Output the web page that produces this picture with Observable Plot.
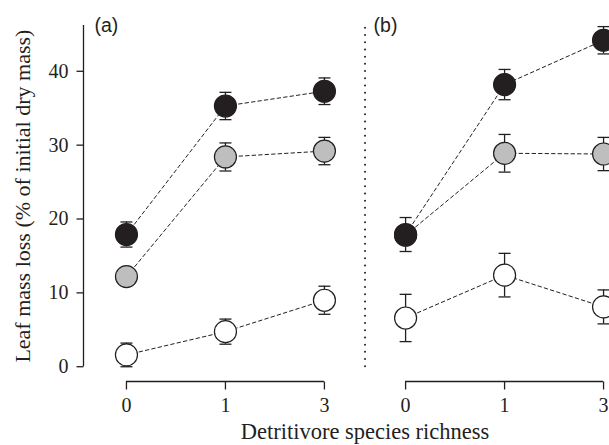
<!DOCTYPE html>
<html>
<head>
<meta charset="utf-8">
<script src="https://cdn.jsdelivr.net/npm/d3@7"></script>
<script src="https://cdn.jsdelivr.net/npm/@observablehq/plot@0.6"></script>
<style>
  html, body { margin: 0; padding: 0; background: #fff; overflow: hidden; }
  #chart svg { overflow: hidden; }
</style>
</head>
<body>
<div id="chart"></div>
<script>
// ---- data ----
const richness = ["0", "1", "3"];
const panelLabels = ["(a)", "(b)"];
const yTicks = [0, 10, 20, 30, 40];
const yLabel = "Leaf mass loss (% of initial dry mass)";
const xLabel = "Detritivore species richness";

const seriesFill = { white: "#ffffff", gray: "#bebebe", black: "#231f20" };

// panel (a)
const aWhiteMean = [1.6, 4.75, 9.0];
const aWhiteSE   = [1.6, 1.7, 1.9];
const aGrayMean  = [12.2, 28.4, 29.2];
const aGraySE    = [0.4, 1.9, 1.85];
const aBlackMean = [17.9, 35.3, 37.3];
const aBlackSE   = [1.7, 1.85, 1.8];
// panel (b)
const bWhiteMean = [6.6, 12.4, 8.1];
const bWhiteSE   = [3.2, 2.95, 2.3];
const bGrayMean  = [17.8, 28.9, 28.8];
const bGraySE    = [0.4, 2.55, 2.25];
const bBlackMean = [17.9, 38.2, 44.2];
const bBlackSE   = [2.3, 2.05, 1.85];

const panelSeries = [
  { white: [aWhiteMean, aWhiteSE], gray: [aGrayMean, aGraySE], black: [aBlackMean, aBlackSE] },
  { white: [bWhiteMean, bWhiteSE], gray: [bGrayMean, bGraySE], black: [bBlackMean, bBlackSE] }
];

// ---- layout ----
const PANEL_OFFSET = 2.82;       // horizontal distance between panels, in category steps
const X_MIN = -0.434, X_MAX = 4.88;
const Y_MIN = -2, Y_TOP = 46.2;
const ink = "#231f20";
const serif = "Liberation Serif, Times New Roman, serif";
const sans = "Liberation Sans, Arial, sans-serif";

const rows = [];
panelSeries.forEach((ser, p) => {
  ["white", "gray", "black"].forEach(name => {
    const [m, se] = ser[name];
    richness.forEach((r, i) => {
      rows.push({ panel: p, series: name, fill: seriesFill[name], pos: i + p * PANEL_OFFSET, mean: m[i], se: se[i] });
    });
  });
});

const panels = panelLabels.map((label, p) => ({ label, start: p * PANEL_OFFSET, end: p * PANEL_OFFSET + richness.length - 1 }));
const xTicks = [];
panels.forEach(pn => richness.forEach((r, i) => xTicks.push({ pos: pn.start + i, label: r })));
const sepX = (panels[0].end + panels[1].start) / 2;

const capSymbol = { draw(ctx) { ctx.moveTo(-6, 0); ctx.lineTo(6, 0); } };
const yTickSymbol = { draw(ctx) { ctx.moveTo(-7, 0); ctx.lineTo(0, 0); } };
const xTickSymbol = { draw(ctx) { ctx.moveTo(0, 0); ctx.lineTo(0, 8); } };

const chart = Plot.plot({
  width: 609,
  height: 445,
  marginLeft: 83,
  marginRight: 0,
  marginTop: 25,
  marginBottom: 64,
  style: { background: "#fff", color: ink },
  x: { domain: [X_MIN, X_MAX], axis: null },
  y: { domain: [Y_MIN, Y_TOP], axis: null },
  color: { type: "identity" },
  marks: [
    // dotted separator
    Plot.ruleX([sepX], { y1: 0, y2: Y_TOP, stroke: ink, strokeWidth: 2, strokeDasharray: "0,7.2", strokeLinecap: "round" }),
    // y axis
    Plot.ruleX([X_MIN], { y1: 0, y2: Y_TOP, stroke: ink, strokeWidth: 1.3 }),
    Plot.dot(yTicks, { x: X_MIN, y: d => d, symbol: yTickSymbol, r: 3, fill: "none", stroke: ink, strokeWidth: 1.3 }),
    Plot.text(yTicks, { x: X_MIN, y: d => d, text: d => String(d), textAnchor: "end", dx: -15, fontSize: 20, fontFamily: serif, fill: ink }),
    // x axes per panel
    Plot.ruleY(panels, { y: Y_MIN, x1: "start", x2: "end", stroke: ink, strokeWidth: 1.3 }),
    Plot.dot(xTicks, { x: "pos", y: Y_MIN, symbol: xTickSymbol, r: 3, fill: "none", stroke: ink, strokeWidth: 1.3 }),
    Plot.text(xTicks, { x: "pos", y: Y_MIN, text: "label", dy: 24, fontSize: 20, fontFamily: serif, fill: ink }),
    // dashed connecting lines
    Plot.line(rows, { x: "pos", y: "mean", z: d => d.panel + d.series, stroke: ink, strokeWidth: 1, strokeDasharray: "3.5,3" }),
    // error bars
    Plot.ruleX(rows, { x: "pos", y1: d => d.mean - d.se, y2: d => d.mean + d.se, stroke: ink, strokeWidth: 1.3 }),
    Plot.dot(rows, { x: "pos", y: d => d.mean + d.se, symbol: capSymbol, r: 3, fill: "none", stroke: ink, strokeWidth: 1.3 }),
    Plot.dot(rows, { x: "pos", y: d => d.mean - d.se, symbol: capSymbol, r: 3, fill: "none", stroke: ink, strokeWidth: 1.3 }),
    // points
    Plot.dot(rows, { x: "pos", y: "mean", r: 11, fill: "fill", stroke: ink, strokeWidth: 1.2 }),
    // panel labels
    Plot.text(panels, { x: "start", frameAnchor: "top", text: "label", textAnchor: "start", dx: -32, dy: 0, lineAnchor: "middle", fontSize: 19.5, fontFamily: sans, fill: ink }),
    // axis titles
    Plot.text([yLabel], { x: X_MIN, y: Y_TOP / 2, text: d => d, rotate: -90, dx: -61, fontSize: 22, fontFamily: serif, fill: ink }),
    Plot.text([xLabel], { x: sepX, frameAnchor: "bottom", text: d => d, dy: 57, fontSize: 22.5, fontFamily: serif, fill: ink })
  ]
});
document.getElementById("chart").appendChild(chart);
</script>
</body>
</html>
